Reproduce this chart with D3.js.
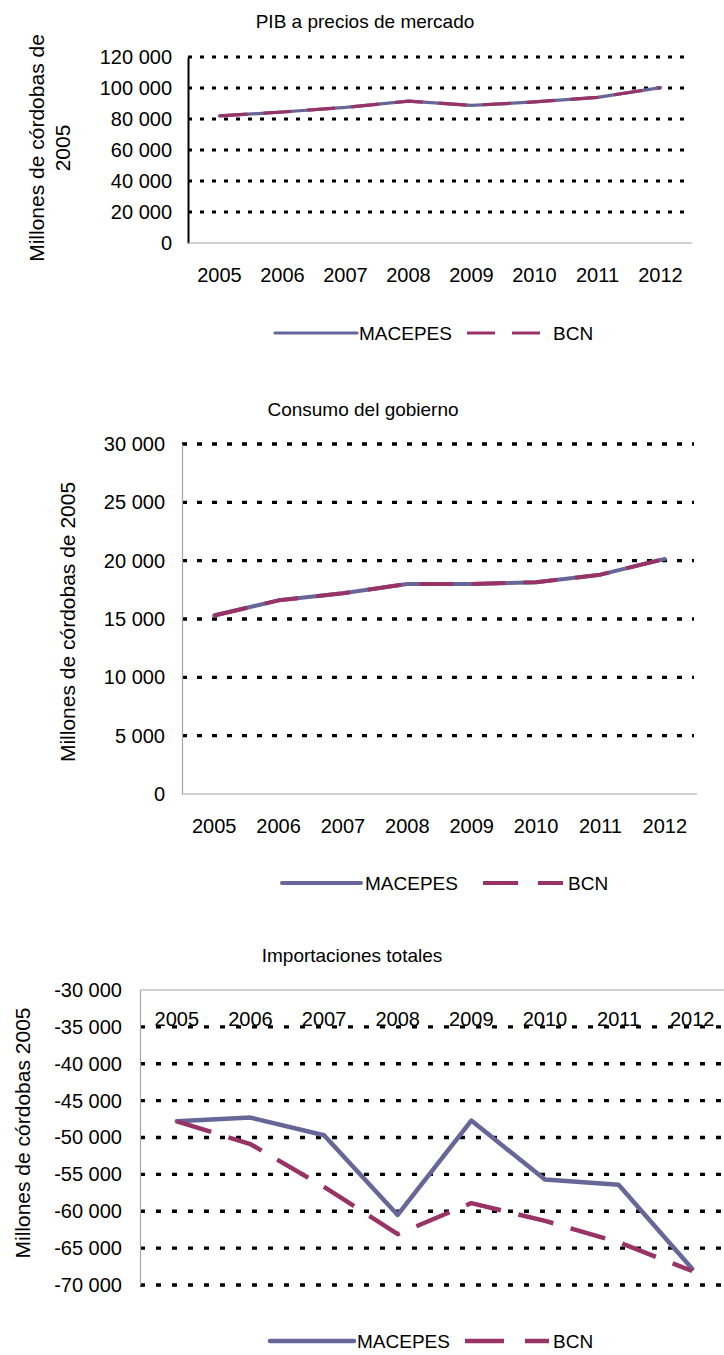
<!DOCTYPE html>
<html>
<head>
<meta charset="utf-8">
<script src="https://cdn.jsdelivr.net/npm/d3@7"></script>
<style>
  html, body { margin: 0; padding: 0; background: #fff; }
  svg { display: block; font-family: "Liberation Sans", Arial, sans-serif; }
</style>
</head>
<body>
<svg id="chart" width="724" height="1355"></svg>
<script>
// ---------------- DATA ----------------
const years = ["2005", "2006", "2007", "2008", "2009", "2010", "2011", "2012"];
const seriesNames = ["MACEPES", "BCN"];

const pibTitle = "PIB a precios de mercado";
const pibMacepes = [82000, 84500, 87500, 91500, 88800, 91000, 94000, 100200];
const pibBcn     = [82000, 84500, 87500, 91500, 88800, 91000, 94000, 100200];
const pibTicks   = [0, 20000, 40000, 60000, 80000, 100000, 120000];

const consTitle = "Consumo del gobierno";
const consMacepes = [15300, 16600, 17200, 18000, 18000, 18150, 18800, 20150];
const consBcn     = [15300, 16600, 17200, 18000, 18000, 18150, 18800, 20150];
const consTicks   = [0, 5000, 10000, 15000, 20000, 25000, 30000];

const impTitle = "Importaciones totales";
const impMacepes = [-47800, -47300, -49700, -60500, -47700, -55700, -56400, -67800];
const impBcn     = [-47800, -50900, -56700, -63100, -58900, -61300, -64200, -68100];
const impTicks   = [-70000, -65000, -60000, -55000, -50000, -45000, -40000, -35000, -30000];

// ---------------- STYLE ----------------
const colMac = "#666699";
const colBcn = "#993366";
const locale = d3.formatLocale({ decimal: ",", thousands: "\u00a0", grouping: [3], currency: ["", ""], minus: "-" });
const fmt = locale.format(",d");
const FONT = "Liberation Sans, Arial, sans-serif";

const svg = d3.select("#chart");

function drawChart(cfg) {
  const g = svg.append("g");
  const x = d3.scaleBand().domain(years).range([cfg.x0, cfg.x1]);
  const y = d3.scaleLinear().domain(cfg.domain).range([cfg.yBottom, cfg.yTop]);

  // title
  g.append("text").attr("x", cfg.titleX).attr("y", cfg.titleY)
    .attr("text-anchor", "middle").attr("font-size", 19).attr("fill", "#000")
    .text(cfg.title);

  // gridlines
  const gridVals = cfg.ticks.filter(t => cfg.gridFilter(t));
  g.selectAll("line.grid").data(gridVals).enter().append("line")
    .attr("class", "grid")
    .attr("x1", cfg.x0).attr("x2", cfg.gridEnd)
    .attr("y1", d => y(d)).attr("y2", d => y(d))
    .attr("stroke", "#000").attr("stroke-width", cfg.gridW)
    .attr("stroke-dasharray", cfg.gridDash);

  // y axis with labels
  const yAxis = d3.axisLeft(y).tickValues(cfg.ticks).tickFormat(fmt).tickSize(0).tickPadding(cfg.yPad);
  const ya = g.append("g").attr("transform", `translate(${cfg.x0},0)`).call(yAxis);
  ya.select(".domain").attr("stroke", cfg.yAxisColor).attr("stroke-width", cfg.yAxisW);
  ya.selectAll("text").attr("font-size", 20).attr("fill", "#000").attr("font-family", FONT);

  // category axis line
  g.append("line").attr("x1", cfg.x0).attr("x2", cfg.x1)
    .attr("y1", y(cfg.catAxisVal)).attr("y2", y(cfg.catAxisVal))
    .attr("stroke", "#a6a6a6").attr("stroke-width", 1.2);

  // x labels
  const xAxis = d3.axisBottom(x).tickSize(0).tickPadding(0);
  const xa = g.append("g").attr("transform", `translate(0,${cfg.xLabelY})`).call(xAxis);
  xa.select(".domain").remove();
  xa.selectAll("text").attr("font-size", 20).attr("fill", "#000")
    .attr("dy", cfg.xLabelDy).attr("y", 0).attr("font-family", FONT);

  // lines
  const line = d3.line().x((d, i) => x(years[i]) + x.bandwidth() / 2).y(d => y(d));
  g.append("path").datum(cfg.mac).attr("d", line).attr("fill", "none")
    .attr("stroke", colMac).attr("stroke-width", cfg.lineW).attr("stroke-linejoin", "round").attr("stroke-linecap", "round");
  g.append("path").datum(cfg.bcn).attr("d", line).attr("fill", "none")
    .attr("stroke", colBcn).attr("stroke-width", cfg.lineW).attr("stroke-linejoin", "round")
    .attr("stroke-dasharray", cfg.dash);

  // y title
  const yt = g.append("text").attr("transform", `translate(${cfg.yTitleX},${cfg.yTitleY}) rotate(-90)`)
    .attr("text-anchor", "middle").attr("font-size", 21).attr("fill", "#000");
  cfg.yTitle.forEach((t, i) => {
    yt.append("tspan").attr("x", 0).attr("dy", i === 0 ? 0 : 26).text(t);
  });

  // legend
  const L = cfg.legend;
  g.append("line").attr("x1", L.l1).attr("x2", L.l2).attr("y1", L.y).attr("y2", L.y)
    .attr("stroke", colMac).attr("stroke-width", cfg.lineW).attr("stroke-linecap", "round");
  g.append("text").attr("x", L.t1).attr("y", L.y).attr("dy", "0.35em").attr("font-size", 19).text(seriesNames[0]);
  g.append("line").attr("x1", L.d1).attr("x2", L.d2).attr("y1", L.y).attr("y2", L.y)
    .attr("stroke", colBcn).attr("stroke-width", cfg.lineW).attr("stroke-dasharray", L.dash);
  g.append("text").attr("x", L.t2).attr("y", L.y).attr("dy", "0.35em").attr("font-size", 19).text(seriesNames[1]);
}

drawChart({
  title: pibTitle, titleX: 365, titleY: 28,
  x0: 188, x1: 692, gridEnd: 688, yTop: 57, yBottom: 243,
  domain: [0, 120000], ticks: pibTicks, gridFilter: t => t > 0,
  gridW: 3, gridDash: "4,8",
  yPad: 16, yAxisColor: "#000", yAxisW: 2, catAxisVal: 0,
  xLabelY: 275, xLabelDy: "0.35em",
  mac: pibMacepes, bcn: pibBcn, lineW: 3.2, dash: "28,16",
  yTitle: ["Millones de córdobas de", "2005"], yTitleX: 44, yTitleY: 148,
  legend: { y: 333, l1: 275, l2: 357, t1: 359, d1: 467, d2: 540, t2: 553, dash: "28,17" }
});

drawChart({
  title: consTitle, titleX: 363, titleY: 416,
  x0: 182, x1: 697, gridEnd: 694, yTop: 444, yBottom: 794,
  domain: [0, 30000], ticks: consTicks, gridFilter: t => t > 0,
  gridW: 3.4, gridDash: "5,10",
  yPad: 17, yAxisColor: "#a6a6a6", yAxisW: 1.2, catAxisVal: 0,
  xLabelY: 826, xLabelDy: "0.35em",
  mac: consMacepes, bcn: consBcn, lineW: 4, dash: "34,18",
  yTitle: ["Millones de córdobas de 2005"], yTitleX: 75, yTitleY: 622,
  legend: { y: 883, l1: 282, l2: 361, t1: 365, d1: 483, d2: 563, t2: 568, dash: "35,20" }
});

drawChart({
  title: impTitle, titleX: 352, titleY: 962,
  x0: 140, x1: 729, gridEnd: 724, yTop: 990, yBottom: 1285,
  domain: [-70000, -30000], ticks: impTicks, gridFilter: t => t < -30000,
  gridW: 3.4, gridDash: "5,11",
  yPad: 18, yAxisColor: "#a6a6a6", yAxisW: 1.2, catAxisVal: -30000,
  xLabelY: 1026, xLabelDy: "0em",
  mac: impMacepes, bcn: impBcn, lineW: 4.5, dash: "36,18",
  yTitle: ["Millones de córdobas 2005"], yTitleX: 30, yTitleY: 1133,
  legend: { y: 1341, l1: 270, l2: 354, t1: 357, d1: 465, d2: 549, t2: 553, dash: "39,21" }
});
</script>
</body>
</html>
